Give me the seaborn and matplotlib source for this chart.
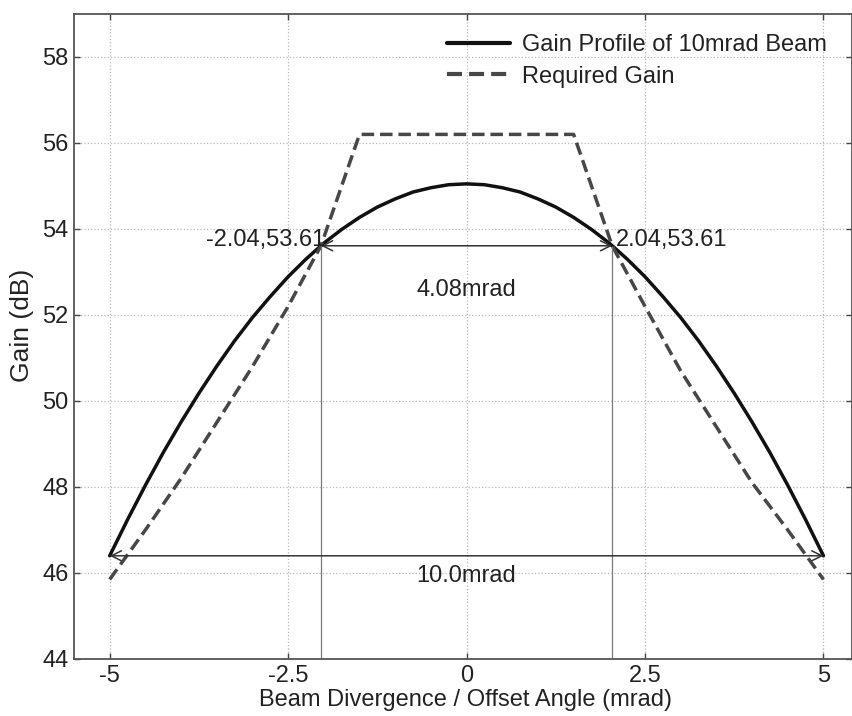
import numpy as np
import pandas as pd
import matplotlib
matplotlib.use("Agg")
import matplotlib.pyplot as plt
import seaborn as sns

# ---- data ----
profile_angle = [-5.00, -4.75, -4.50, -4.25, -4.00, -3.75, -3.50, -3.25, -3.00, -2.75,
                 -2.50, -2.25, -2.00, -1.75, -1.50, -1.25, -1.00, -0.75, -0.50, -0.25,
                 0.00, 0.25, 0.50, 0.75, 1.00, 1.25, 1.50, 1.75, 2.00, 2.25,
                 2.50, 2.75, 3.00, 3.25, 3.50, 3.75, 4.00, 4.25, 4.50, 4.75, 5.00]
profile_gain = [46.40, 47.24, 48.04, 48.80, 49.51, 50.18, 50.81, 51.40, 51.94, 52.43,
                52.89, 53.30, 53.67, 53.99, 54.27, 54.51, 54.70, 54.86, 54.96, 55.03,
                55.05, 55.03, 54.96, 54.86, 54.70, 54.51, 54.27, 53.99, 53.67, 53.30,
                52.89, 52.43, 51.94, 51.40, 50.81, 50.18, 49.51, 48.80, 48.04, 47.24, 46.40]

required_angle = [-5.0, -4.5, -4.0, -3.5, -3.0, -2.5, -2.04, -1.5,
                  1.5, 2.04, 2.5, 3.0, 3.5, 4.0, 4.5, 5.0]
required_gain = [45.85, 47.0, 48.2, 49.5, 50.8, 52.2, 53.61, 56.2,
                 56.2, 53.61, 52.2, 50.7, 49.4, 48.1, 47.0, 45.85]

series_names = ["Gain Profile of 10mrad Beam", "Required Gain"]
x_ticks = [-5, -2.5, 0, 2.5, 5]
x_tick_labels = ["-5", "-2.5", "0", "2.5", "5"]
y_ticks = [44, 46, 48, 50, 52, 54, 56, 58]

beam_edges = [-2.04, 2.04]
beam_edge_gain = 53.61
full_edges = [-5.0, 5.0]
full_edge_gain = 46.4

df = pd.concat([
    pd.DataFrame({"angle": profile_angle, "gain": profile_gain, "series": series_names[0]}),
    pd.DataFrame({"angle": required_angle, "gain": required_gain, "series": series_names[1]}),
], ignore_index=True)

sns.set_theme(style="ticks")
plt.rcParams["font.family"] = ["Liberation Sans", "DejaVu Sans"]
plt.rcParams["text.color"] = "#222222"
plt.rcParams["axes.labelcolor"] = "#222222"

fig = plt.figure(figsize=(8.53, 7.16), dpi=100)
ax = fig.add_axes([74 / 853, 1 - 659 / 716, (852 - 74) / 853, (659 - 14) / 716])

ax.grid(True, linestyle=":", color="#b8b8b8", linewidth=0.9)
ax.set_axisbelow(True)

sns.lineplot(data=df, x="angle", y="gain", hue="series", style="series",
             palette={series_names[0]: "#111111", series_names[1]: "#474747"},
             dashes={series_names[0]: "", series_names[1]: (3.6, 1.7)},
             linewidth=2.5, ax=ax)

# vertical guide lines at beam edges
ax.vlines(beam_edges, 44, beam_edge_gain, color="#7a7a7a", linewidth=0.9)

arrow_kw = dict(arrowstyle="<->", color="#333333", lw=1.1, shrinkA=0, shrinkB=0,
                mutation_scale=18)
ax.annotate("", xy=(beam_edges[1], beam_edge_gain), xytext=(beam_edges[0], beam_edge_gain),
            arrowprops=arrow_kw)
ax.annotate("", xy=(full_edges[1], full_edge_gain), xytext=(full_edges[0], full_edge_gain),
            arrowprops=arrow_kw)

ax.text(0, 52.57, "4.08mrad", ha="center", va="center", fontsize=17)
ax.text(0, 45.93, "10.0mrad", ha="center", va="center", fontsize=17)
ax.text(beam_edges[0] + 0.06, 53.75, "-2.04,53.61", ha="right", va="center", fontsize=17)
ax.text(beam_edges[1] + 0.05, 53.75, "2.04,53.61", ha="left", va="center", fontsize=17)

ax.set_xlim(-5.5, 5.4)
ax.set_ylim(44, 59)
ax.set_xticks(x_ticks)
ax.set_xticklabels(x_tick_labels)
ax.set_yticks(y_ticks)
ax.tick_params(direction="in", top=True, right=True, length=4, width=1,
               labelsize=17, pad=4, color="#444444", labelcolor="#222222")
for s in ax.spines.values():
    s.set_color("#555555")
    s.set_linewidth(1.3)

ax.set_xlabel("Beam Divergence / Offset Angle (mrad)", fontsize=17)
ax.set_ylabel("Gain (dB)", fontsize=19)
ax.xaxis.set_label_coords(0.503, -0.046)
ax.yaxis.set_label_coords(-0.051, 0.518)

handles, labels = ax.get_legend_handles_labels()
leg = ax.legend(handles, labels, loc="upper left", bbox_to_anchor=(0.479, 0.969),
                frameon=False, fontsize=17, handlelength=2.67, handletextpad=0.5,
                labelspacing=0.41, borderpad=0, borderaxespad=0)
for h in leg.get_lines():
    h.set_linewidth(3.0)

fig.savefig("out.png", dpi=100)
